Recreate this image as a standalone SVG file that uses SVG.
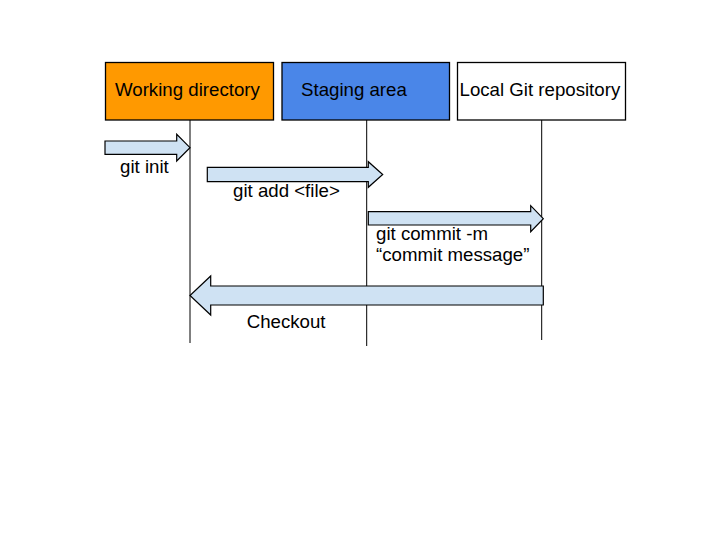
<svg xmlns="http://www.w3.org/2000/svg" width="720" height="540" viewBox="0 0 720 540">
<style>
text{font-family:"Liberation Sans",Arial,sans-serif;font-size:18.67px;fill:#000}
.box{stroke:#000;stroke-width:1.3}
.life{stroke:#000;stroke-width:1;fill:none}
.arr{fill:#cfe2f3;stroke:#000;stroke-width:1.2;stroke-linejoin:miter}
</style>
<rect width="720" height="540" fill="#fff"/>
<g id="node-working">
<rect class="box" x="105.5" y="62.5" width="168" height="57.5" fill="#ff9900"/>
<text x="115" y="96">Working directory</text>
</g>
<g id="node-staging">
<rect class="box" x="282" y="62.5" width="167.5" height="57.5" fill="#4a86e8"/>
<text x="301" y="96">Staging area</text>
</g>
<g id="node-local">
<rect class="box" x="457.5" y="62.5" width="168" height="57.5" fill="#ffffff"/>
<text x="459.5" y="96">Local Git repository</text>
</g>
<g id="connectors">
<line class="life" x1="190" y1="120" x2="190" y2="343"/>
<line class="life" x1="366.7" y1="120" x2="366.7" y2="346"/>
<line class="life" x1="541.7" y1="120" x2="541.7" y2="340"/>
<polygon class="arr" points="105,141 176.7,141 176.7,134.3 190,147.7 176.7,161 176.7,154.3 105,154.3"/>
<polygon class="arr" points="207.3,167.3 368.3,167.3 368.3,161.7 382.7,174.5 368.3,187.3 368.3,181.7 207.3,181.7"/>
<polygon class="arr" points="368.3,211.7 530.7,211.7 530.7,205.7 543.3,218.7 530.7,231.7 530.7,225 368.3,225"/>
<polygon class="arr" points="543.3,286 210.7,286 210.7,276 190,295.5 210.7,315 210.7,305 543.3,305"/>
</g>
<g id="labels">
<text x="120" y="172.5">git init</text>
<text x="233" y="197">git add &lt;file&gt;</text>
<text x="376" y="240">git commit -m</text>
<text x="376" y="261">“commit message”</text>
<text x="246.7" y="328">Checkout</text>
</g>
</svg>
